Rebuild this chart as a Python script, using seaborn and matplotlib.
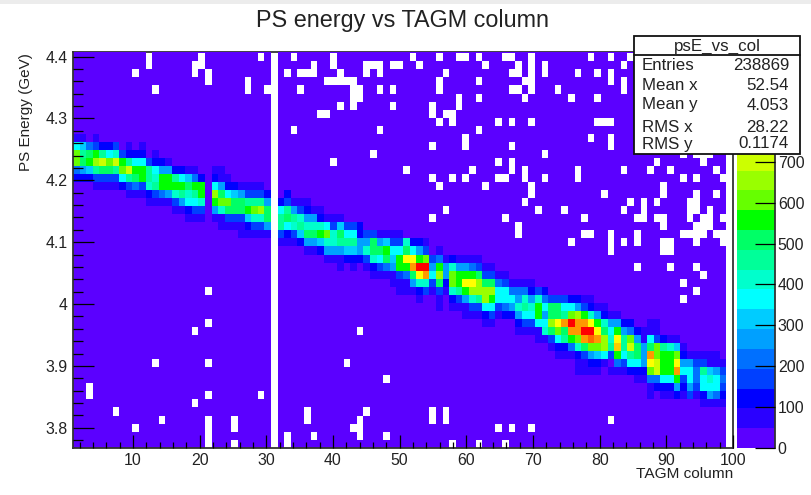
import numpy as np
import matplotlib
matplotlib.use("Agg")
import matplotlib.pyplot as plt
import matplotlib.colors as mcolors
from matplotlib.patches import Rectangle
from matplotlib.lines import Line2D
import seaborn as sns

# histogram binning
n_cols = 100
n_rows = 50
x_first = 1.0
x_bin = 0.99
y_bottom = 3.7677
y_bin = 0.013015
z_max = 969.0
n_levels = 20

x_major = [10, 20, 30, 40, 50, 60, 70, 80, 90, 100]
x_minor = list(range(2, 100, 2))
y_major = [3.8, 3.9, 4.0, 4.1, 4.2, 4.3, 4.4]
y_major_labels = ["3.8", "3.9", "4", "4.1", "4.2", "4.3", "4.4"]
y_minor = [3.78, 3.82, 3.84, 3.86, 3.88, 3.92, 3.94, 3.96, 3.98, 4.02, 4.04, 4.06, 4.08,
           4.12, 4.14, 4.16, 4.18, 4.22, 4.24, 4.26, 4.28, 4.32, 4.34, 4.36, 4.38]
z_ticks = [0, 100, 200, 300, 400, 500, 600, 700]

palette = ["#5b00ff", "#2a00ff", "#0000ff", "#0040ff", "#0070ff", "#00a0ff", "#00ccff",
           "#00ffff", "#00ffcc", "#00ff99", "#00ff66", "#00ff00", "#66ff00", "#99ff00",
           "#ccff00", "#ffff00", "#ffcc00", "#ff9900", "#ff6600", "#ff0000"]

# ridge: row from the top -> (first column, colour level of each column)
ridge = {
    11: (0, [1, 1, 0, 1]),
    12: (0, [7, 6, 4, 3, 2, 2, 3, 0, 1, 0, 1]),
    13: (0, [12, 9, 10, 11, 9, 7, 8, 3, 2, 2, 2, 0, 1]),
    14: (0, [12, 10, 11, 13, 14, 12, 14, 11, 9, 7, 7, 3, 2, 2, 1]),
    15: (0, [4, 5, 6, 9, 10, 10, 9, 12, 14, 11, 11, 9, 7, 5, 5, 2, 2, 1, 1, 0, 0, 1, 1]),
    16: (0, [2, 2, 2, 3, 3, 3, 3, 7, 9, 10, 11, 9, 8, 11, 11, 9, 7, 6, 4, 2, 0, 2, 1, 1]),
    17: (3, [1, 1, 1, 1, 2, 3, 4, 3, 8, 9, 11, 11, 11, 11, 10, 11, 11, 0, 7, 5, 2, 2, 1, 1, 1, 1]),
    18: (8, [1, 1, 1, 2, 3, 4, 5, 8, 9, 8, 9, 11, 0, 13, 10, 7, 6, 5, 3, 3, 3, 2, 0, 0, 2]),
    19: (11, [1, 1, 1, 1, 3, 5, 7, 7, 8, 0, 11, 12, 12, 10, 10, 9, 9, 9, 5, 0, 2, 3, 1, 1, 1]),
    20: (15, [1, 1, 2, 3, 3, 0, 5, 8, 10, 10, 10, 11, 12, 13, 10, 0, 7, 9, 5, 3, 2, 1, 1]),
    21: (17, [1, 1, 1, 0, 1, 1, 3, 3, 3, 6, 8, 8, 10, 0, 9, 10, 9, 8, 5, 5, 2, 1, 1, 1]),
    22: (22, [1, 1, 1, 1, 2, 3, 3, 5, 0, 9, 7, 8, 9, 8, 8, 8, 7, 3, 6, 3, 3, 2]),
    23: (25, [1, 1, 1, 1, 1, 0, 3, 2, 3, 6, 10, 10, 11, 12, 8, 10, 7, 7, 2, 3, 3, 1, 1, 1, 1]),
    24: (31, [1, 1, 1, 2, 5, 5, 6, 8, 8, 9, 9, 9, 5, 5, 10, 5, 6, 3, 3, 8, 2, 2, 1]),
    25: (35, [1, 1, 2, 5, 5, 5, 6, 6, 5, 8, 10, 10, 11, 7, 7, 10, 7, 5, 3, 0, 1]),
    26: (38, [1, 1, 1, 2, 2, 2, 3, 8, 7, 10, 6, 11, 15, 15, 11, 12, 3, 4, 1, 2, 1, 1, 1, 1]),
    27: (40, [1, 0, 1, 0, 1, 2, 3, 4, 5, 11, 11, 17, 19, 19, 5, 11, 5, 8, 5, 5, 4, 3, 1, 1]),
    28: (45, [1, 1, 1, 1, 3, 4, 10, 15, 17, 7, 13, 5, 12, 11, 11, 11, 10, 3, 3, 1, 1]),
    29: (48, [1, 1, 1, 5, 8, 8, 3, 10, 2, 12, 11, 15, 15, 13, 10, 10, 4, 3, 1, 1, 1, 1]),
    30: (49, [1, 1, 1, 2, 3, 1, 3, 1, 8, 9, 11, 13, 13, 13, 13, 7, 7, 4, 4, 4, 2, 3, 2]),
    31: (52, [1, 0, 0, 1, 0, 2, 3, 5, 8, 9, 13, 11, 7, 7, 7, 5, 8, 5, 8, 4, 3, 3, 3, 2, 2, 1, 1]),
    32: (55, [1, 0, 1, 1, 1, 3, 3, 7, 7, 3, 4, 5, 8, 9, 8, 11, 7, 10, 10, 7, 7, 5, 3, 2, 1, 1]),
    33: (59, [1, 1, 1, 2, 3, 1, 2, 2, 5, 7, 7, 11, 5, 10, 10, 9, 12, 13, 11, 8, 5, 2, 1, 1]),
    34: (62, [1, 1, 0, 0, 0, 2, 3, 3, 7, 7, 13, 15, 17, 19, 17, 17, 15, 11, 8, 5, 5, 2, 2, 0, 0, 1, 1]),
    35: (67, [1, 1, 1, 1, 8, 10, 12, 10, 17, 17, 19, 19, 15, 10, 7, 11, 5, 4, 2, 1, 1, 1]),
    36: (70, [1, 1, 3, 7, 9, 11, 12, 17, 18, 17, 13, 8, 15, 9, 12, 5, 1, 7, 3, 2, 1, 1]),
    37: (72, [1, 2, 2, 4, 8, 10, 12, 12, 13, 9, 16, 9, 14, 10, 5, 10, 12, 9, 8, 6, 1]),
    38: (73, [1, 1, 1, 2, 3, 5, 6, 7, 3, 11, 7, 9, 10, 5, 17, 12, 11, 11, 12, 2, 1, 1, 1, 1, 1]),
    39: (76, [1, 1, 2, 2, 1, 0, 4, 3, 7, 7, 5, 15, 14, 11, 11, 15, 5, 5, 3, 3, 1, 1, 1]),
    40: (76, [1, 1, 1, 1, 0, 1, 1, 1, 2, 2, 2, 12, 14, 11, 11, 17, 7, 7, 4, 9, 6, 5, 3]),
    41: (85, [1, 1, 4, 4, 7, 7, 11, 3, 7, 4, 7, 8, 7, 4]),
    42: (87, [1, 2, 2, 2, 5, 2, 5, 3, 7, 7, 7, 3]),
    43: (87, [1, 0, 1, 1, 2, 1, 3, 1, 2, 5, 4, 2]),
    44: (95, [1, 1, 1, 1]),
}

# columns with no entries at all
empty_cols = [30, 99]

# isolated empty bins: row from the top -> columns
empty_cells = {
    0: [11],
    1: [11, 19, 28, 33, 39, 51, 55, 58, 59, 61, 65, 66, 69, 78, 81, 84],
    2: [11, 18, 19, 36, 39, 44, 45, 46, 48, 49, 52, 62, 67, 69, 71, 83],
    3: [9, 18, 20, 32, 34, 35, 36, 40, 44, 46, 56, 66, 67, 69, 71, 76, 79, 81],
    4: [20, 26, 38, 39, 40, 41, 42, 55, 61, 68, 69, 81, 83],
    5: [12, 26, 29, 34, 42, 43, 46, 48, 55, 66, 67, 69, 73, 83],
    6: [42, 43, 58, 61, 68, 75, 79],
    7: [40, 42, 48, 54, 58],
    8: [37, 38, 54, 56, 57],
    9: [55, 57, 64, 66, 69, 79, 80, 81],
    10: [33, 46, 61],
    11: [59, 78, 81],
    12: [54, 59, 66, 81],
    13: [45, 71, 92, 94, 95, 96],
    14: [39, 64, 66, 88, 95],
    15: [50, 60, 66, 68, 76, 83, 87, 90, 97],
    16: [54, 57, 59, 64, 65, 68, 71, 76, 92, 94, 98],
    17: [55, 62, 69, 89],
    18: [69, 80, 89, 94, 97],
    19: [68, 84, 86, 88, 93, 94],
    20: [56, 70, 74, 83, 86, 93, 94, 96],
    21: [54, 65, 77, 85, 86, 88, 89, 93, 95, 96, 98],
    22: [67, 89, 94, 95, 96],
    23: [67, 77, 78, 81, 85, 92, 93, 94, 95, 97, 98],
    24: [75, 81, 83, 85, 89, 90, 94, 98],
    25: [81, 89, 90],
    27: [85, 90, 94],
    28: [95],
    29: [92],
    30: [20, 94],
    31: [92],
    34: [20],
    35: [18, 43],
    39: [12, 20, 41],
    41: [47],
    42: [2],
    43: [2, 20, 28],
    44: [18],
    45: [6, 35, 44, 54, 56],
    46: [13, 20, 24, 35, 43, 54, 56, 81],
    47: [9, 20, 24, 42, 43, 64, 66, 69],
    48: [20, 32, 36, 43, 47],
    49: [20, 24, 32, 57, 61, 65],
}

stats_title = "psE_vs_col"
stats_names = ["Entries", "Mean x", "Mean y", "RMS x", "RMS y"]
stats_values = ["238869", "52.54", "4.053", "28.22", "0.1174"]

# build the count matrix, every bin starts in the lowest colour level
level_width = z_max / n_levels
levels = np.zeros((n_rows, n_cols))
for row, (first, vals) in ridge.items():
    levels[row, first:first + len(vals)] = vals
counts = (levels + 0.5) * level_width
for row, cols in empty_cells.items():
    counts[row, cols] = np.nan
counts[:, empty_cols] = np.nan

sns.set_style("white")
plt.rcParams['font.family'] = ['Liberation Sans', 'DejaVu Sans']
text_color = "#222222"
W, H = 812.0, 495.0


def px_box(x0, y0, x1, y1):
    return [x0 / W, 1 - y1 / H, (x1 - x0) / W, (y1 - y0) / H]


def x_pos(v):
    return (np.asarray(v, dtype=float) - x_first) / x_bin


def y_pos(v):
    return n_rows - (np.asarray(v, dtype=float) - y_bottom) / y_bin


fig = plt.figure(figsize=(W / 100, H / 100), dpi=100)
ax = fig.add_axes(px_box(73, 51.7, 733, 447.7))
cax = fig.add_axes(px_box(737.3, 51.7, 775, 448))

cmap = mcolors.ListedColormap(palette)
norm = mcolors.BoundaryNorm(np.linspace(0, z_max, n_levels + 1), cmap.N)
sns.heatmap(counts, ax=ax, cbar_ax=cax, cmap=cmap, norm=norm, xticklabels=False, yticklabels=False,
            cbar_kws={'ticks': z_ticks, 'spacing': 'proportional'})

ax.set_xlim(0, n_cols)
ax.set_ylim(n_rows, y_pos(y_bottom + 396.0 / 618.5))
ax.set_axisbelow(False)
cax.set_axisbelow(False)

for name, spine in ax.spines.items():
    spine.set_visible(True)
    spine.set_color("#333333")
    spine.set_linewidth(1.3)
ax.spines['top'].set_zorder(0.5)
ax.spines['right'].set_zorder(0.5)

ax.set_xticks(x_pos(x_major))
ax.set_xticklabels([str(v) for v in x_major])
ax.set_xticks(x_pos(x_minor), minor=True)
ax.set_yticks(y_pos(y_major))
ax.set_yticklabels(y_major_labels)
ax.set_yticks(y_pos(y_minor), minor=True)
ax.tick_params(axis='x', which='major', direction='in', bottom=True, length=9.1, width=0.9,
               color="black", labelsize=11.4, labelcolor=text_color, pad=4)
ax.tick_params(axis='x', which='minor', direction='in', bottom=True, length=4.3, width=0.9, color="black")
ax.tick_params(axis='y', which='major', direction='in', left=True, length=15, width=0.9,
               color="black", labelsize=11.4, labelcolor=text_color, pad=3.6)
ax.tick_params(axis='y', which='minor', direction='in', left=True, length=7.2, width=0.9, color="black")

# colour bar, ticks run inwards from the right edge
cbar = ax.collections[0].colorbar
cbar.outline.set_visible(False)
cax.set_ylim(0, z_max)
cax.yaxis.tick_right()
cax.spines['right'].set_visible(True)
cax.spines['right'].set_color("#333333")
cax.spines['right'].set_linewidth(1.3)
cax.tick_params(axis='y', which='major', direction='in', right=True, length=14.4, width=0.9,
                color="black", labelsize=11.4, labelcolor=text_color, pad=2)
cax.minorticks_off()

# light strip along the top edge of the screenshot
fig.add_artist(Rectangle((0, 1 - 3.5 / H), 1, 3.5 / H, transform=fig.transFigure,
                         facecolor="#ececec", edgecolor="none", zorder=1))

fig.text(403 / W, 1 - 21 / H, "PS energy vs TAGM column", ha='center', va='center',
         fontsize=16.8, color=text_color)
fig.text(26.5 / W, 1 - 112 / H, "PS Energy (GeV)", ha='center', va='center', rotation=90,
         fontsize=11, color=text_color)
fig.text(733 / W, 1 - 474 / H, "TAGM column", ha='right', va='center',
         fontsize=11.1, color=text_color)

# stats box
fig.add_artist(Rectangle((634 / W, 1 - 154.3 / H), 166 / W, 118.6 / H, transform=fig.transFigure,
                         facecolor="white", edgecolor="#111111", linewidth=1.3, zorder=5))
fig.add_artist(Line2D([634 / W, 800 / W], [1 - 55 / H, 1 - 55 / H], transform=fig.transFigure,
                      color="#111111", linewidth=1.3, zorder=6))
fig.text(717 / W, 1 - 46 / H, stats_title, ha='center', va='center', fontsize=12.2,
         color=text_color, zorder=7)
stats_y = [66, 85.5, 105, 127, 144]
for name, value, y in zip(stats_names, stats_values, stats_y):
    fig.text(642 / W, 1 - y / H, name, ha='left', va='center', fontsize=12.2, color=text_color, zorder=7)
    fig.text(789 / W, 1 - y / H, value, ha='right', va='center', fontsize=12.2, color=text_color, zorder=7)

fig.savefig("out.png", dpi=100)
